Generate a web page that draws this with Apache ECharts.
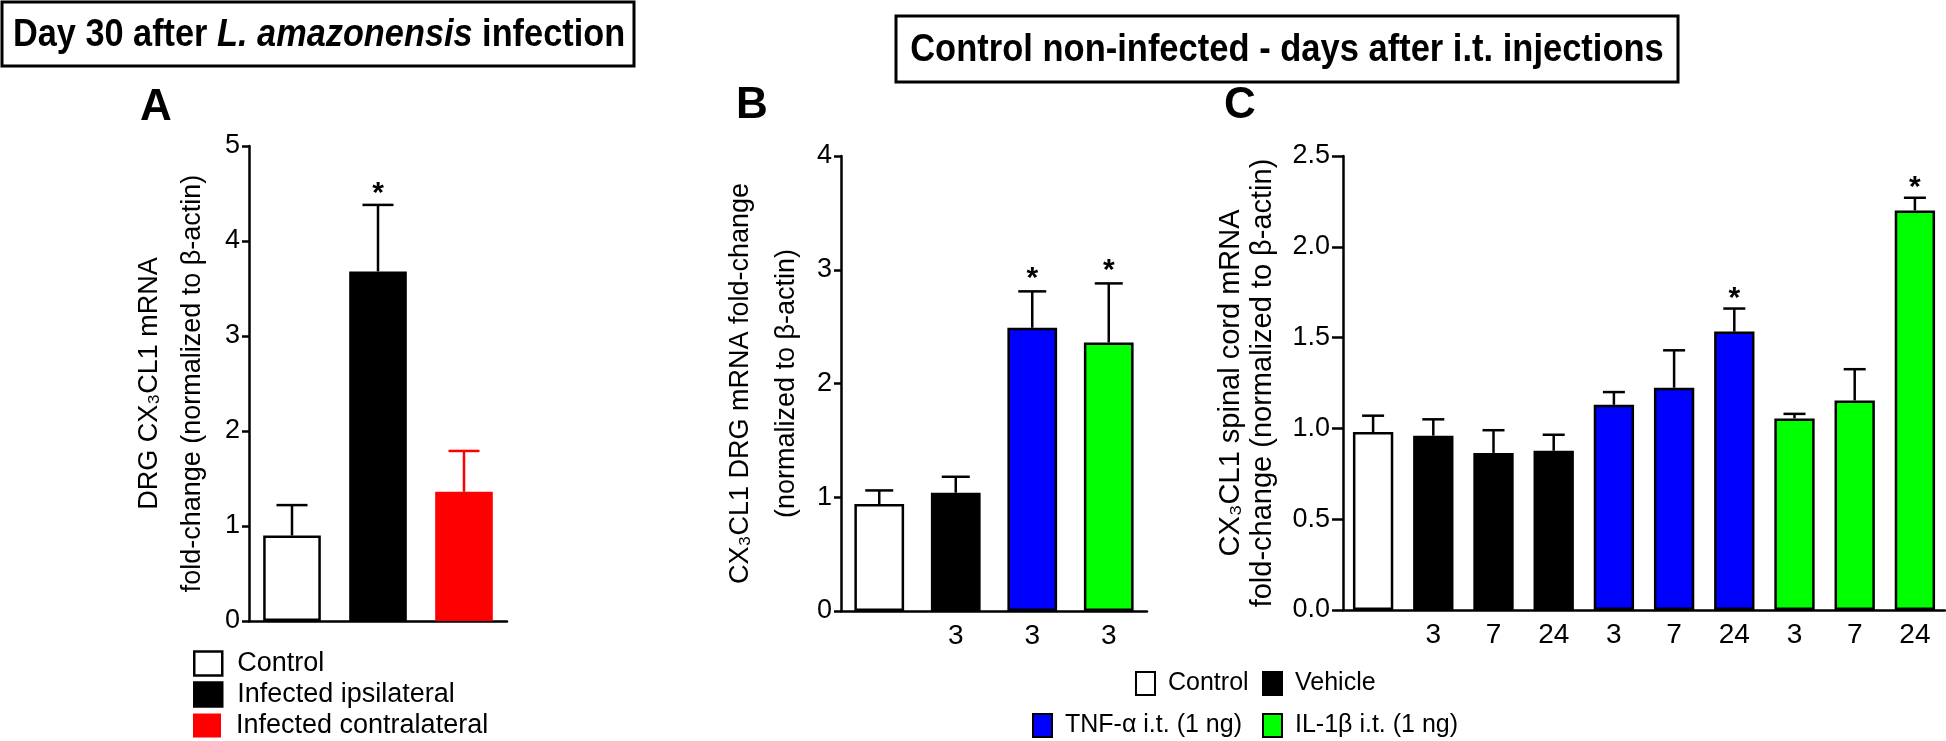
<!DOCTYPE html>
<html>
<head>
<meta charset="utf-8">
<script src="https://cdn.jsdelivr.net/npm/echarts@6/dist/echarts.min.js"></script>
<style>
html,body{margin:0;padding:0;background:#fff;}
#chart{width:1946px;height:741px;}
</style>
</head>
<body>
<div id="chart"></div>
<script>
// ---------- DATA ----------
// Panel A: Day 30 after L. amazonensis infection (DRG)
const A_CATS = ['Control', 'Infected ipsilateral', 'Infected contralateral'];
const A_MEAN = [0.90, 3.68, 1.36];
const A_SEM = [0.32, 0.70, 0.43];
const A_GROUP = [0, 1, 2];
const A_SIG = [0, 1, 0];
const A_TICKS = [0, 1, 2, 3, 4, 5];

// Panel B: DRG, days after i.t. injections
const B_LABELS = ['', '3', '3', '3'];
const B_MEAN = [0.94, 1.04, 2.49, 2.36];
const B_SEM = [0.12, 0.14, 0.32, 0.52];
const B_GROUP = [0, 1, 2, 3];
const B_SIG = [0, 0, 1, 1];
const B_TICKS = [0, 1, 2, 3, 4];

// Panel C: spinal cord, days after i.t. injections
const C_LABELS = ['', '3', '7', '24', '3', '7', '24', '3', '7', '24'];
const C_MEAN = [0.98, 0.96, 0.865, 0.877, 1.13, 1.224, 1.533, 1.055, 1.154, 2.20];
const C_SEM = [0.09, 0.09, 0.125, 0.088, 0.07, 0.206, 0.127, 0.025, 0.172, 0.07];
const C_GROUP = [0, 1, 1, 1, 2, 2, 2, 3, 3, 3];
const C_SIG = [0, 0, 0, 0, 0, 0, 1, 0, 0, 1];
const C_TICKS = [0.0, 0.5, 1.0, 1.5, 2.0, 2.5];

const A_NAMES = ['Control', 'Infected ipsilateral', 'Infected contralateral'];
const BC_NAMES = ['Control', 'Vehicle', 'TNF-\u03b1 i.t. (1 ng)', 'IL-1\u03b2 i.t. (1 ng)'];

// ---------- STYLE ----------
const FONT = "'Liberation Sans', Arial, sans-serif";
const A_FILL = ['#ffffff', '#000000', '#ff0000'];
const A_ERR = ['#000000', '#000000', '#ff0000'];
const A_BORDER = [2.5, 2.5, 0];
const BC_FILL = ['#ffffff', '#000000', '#0000ff', '#00ff00'];
const BC_ERR = ['#000000', '#000000', '#000000', '#000000'];

const chart = echarts.init(document.getElementById('chart'), null, {renderer: 'canvas'});

function barSeries(names, fills, borders, means, groups, axisIdx) {
  return names.map((nm, g) => ({
    type: 'bar',
    name: nm,
    xAxisIndex: axisIdx, yAxisIndex: axisIdx,
    barGap: '-100%',
    barCategoryGap: axisIdx === 1 ? '35%' : '33%',
    itemStyle: {color: fills[g], borderColor: '#000', borderWidth: borders ? borders[g] : 2.5},
    data: means.map((v, i) => groups[i] === g ? v : '-'),
    silent: true,
    z: 2
  }));
}

function errSeries(means, sems, groups, sigs, errColors, axisIdx, cap, starOff) {
  return {
    type: 'custom',
    xAxisIndex: axisIdx, yAxisIndex: axisIdx,
    silent: true,
    z: 3,
    data: means.map((v, i) => [i, v, v + sems[i], groups[i], sigs[i]]),
    renderItem: function (params, api) {
      const i = api.value(0), m = api.value(1), t = api.value(2);
      const g = api.value(3), s = api.value(4);
      const p0 = api.coord([i, m]);
      const p1 = api.coord([i, t]);
      const col = errColors[g];
      const children = [
        {type: 'line', shape: {x1: p0[0], y1: p0[1], x2: p1[0], y2: p1[1]}, style: {stroke: col, lineWidth: 2.5}},
        {type: 'line', shape: {x1: p1[0] - cap / 2, y1: p1[1], x2: p1[0] + cap / 2, y2: p1[1]}, style: {stroke: col, lineWidth: 2.5}}
      ];
      if (s) {
        children.push({type: 'text', x: p1[0], y: p1[1] - starOff,
          style: {text: '*', fontSize: 30, fontWeight: 'bold', fontFamily: FONT, fill: '#000', align: 'center', verticalAlign: 'middle'}});
      }
      return {type: 'group', children: children};
    }
  };
}

const axisLineStyle = {show: true, lineStyle: {color: '#000', width: 2.5}};

function yAxis(idx, max, interval, ticks, name, nameGap, fontSize, lineHeight, fmt, tickLen, margin) {
  return {
    type: 'value', gridIndex: idx, min: ticks[0], max: max, interval: interval,
    axisLine: axisLineStyle,
    axisTick: {show: true, length: tickLen, lineStyle: {color: '#000', width: 2.5}},
    splitLine: {show: false},
    axisLabel: {color: '#000', fontSize: 27, fontFamily: FONT, margin: margin, formatter: fmt},
    name: name, nameLocation: 'middle', nameRotate: 90, nameGap: nameGap,
    nameTextStyle: {color: '#000', fontSize: fontSize, fontFamily: FONT, lineHeight: lineHeight, align: 'center'}
  };
}

function xAxis(idx, labels, show) {
  return {
    type: 'category', gridIndex: idx, data: labels,
    axisLine: axisLineStyle,
    axisTick: {show: false},
    axisLabel: {show: show, color: '#000', fontSize: 28, fontFamily: FONT, margin: 11, interval: 0},
    splitLine: {show: false}
  };
}

function aLegend(g, top) {
  return {
    show: true, selectedMode: false, left: 193, top: top, icon: 'rect',
    itemWidth: 28, itemHeight: 24, padding: 0,
    textStyle: {color: '#000', fontSize: 27, fontFamily: FONT, lineHeight: 24, padding: [0, 0, 0, 10]},
    data: [{name: A_NAMES[g], itemStyle: {color: A_FILL[g], borderColor: '#000', borderWidth: A_BORDER[g]}}]
  };
}

function cLegend(g, left, top) {
  return {
    show: true, selectedMode: false, left: left, top: top, icon: 'rect',
    itemWidth: 19, itemHeight: 23, padding: 0,
    textStyle: {color: '#000', fontSize: 25, fontFamily: FONT, lineHeight: 23, padding: [0, 0, 0, 8]},
    data: [{name: BC_NAMES[g], itemStyle: {color: BC_FILL[g], borderColor: '#000', borderWidth: 2}}]
  };
}

const TITLE_STYLE = {fontSize: 39, fontWeight: 'bold', fontFamily: FONT, fill: '#000'};

const option = {
  backgroundColor: '#ffffff',
  animation: false,
  grid: [
    {left: 249, width: 258, top: 146, height: 475},
    {left: 841, width: 306, top: 156, height: 455},
    {left: 1343, width: 602, top: 156, height: 454}
  ],
  xAxis: [
    xAxis(0, A_CATS, false),
    xAxis(1, B_LABELS, true),
    xAxis(2, C_LABELS, true)
  ],
  yAxis: [
    yAxis(0, A_TICKS[A_TICKS.length - 1], 1, A_TICKS,
      'DRG CX\u2083CL1 mRNA\nfold-change (normalized to \u03b2-actin)', 35, 27, 43, null, 7, 9),
    yAxis(1, B_TICKS[B_TICKS.length - 1], 1, B_TICKS,
      'CX\u2083CL1 DRG mRNA fold-change\n(normalized to \u03b2-actin)', 31, 27, 46, null, 7, 9),
    yAxis(2, C_TICKS[C_TICKS.length - 1], 0.5, C_TICKS,
      'CX\u2083CL1 spinal cord mRNA\nfold-change (normalized to \u03b2-actin)', 64, 29, 32,
      function (v) { return v.toFixed(1); }, 11, 13)
  ],
  legend: [
    aLegend(0, 650), aLegend(1, 681), aLegend(2, 712),
    cLegend(0, 1135, 671),
    cLegend(1, 1262, 671),
    cLegend(2, 1032, 713),
    cLegend(3, 1262, 713)
  ],
  series: [].concat(
    barSeries(A_NAMES, A_FILL, A_BORDER, A_MEAN, A_GROUP, 0),
    [errSeries(A_MEAN, A_SEM, A_GROUP, A_SIG, A_ERR, 0, 31, 11)],
    barSeries(BC_NAMES, BC_FILL, null, B_MEAN, B_GROUP, 1),
    [errSeries(B_MEAN, B_SEM, B_GROUP, B_SIG, BC_ERR, 1, 28, 13)],
    barSeries(BC_NAMES, BC_FILL, null, C_MEAN, C_GROUP, 2),
    [errSeries(C_MEAN, C_SEM, C_GROUP, C_SIG, BC_ERR, 2, 22, 10)]
  ),
  graphic: [
    {type: 'rect', shape: {x: 2, y: 2, width: 632, height: 64}, style: {fill: '#fff', stroke: '#000', lineWidth: 3}, z: 10},
    {type: 'text', x: 319, y: 35, scaleX: 0.88, z: 11, style: {
      text: '{n|Day 30 after }{i|L. amazonensis}{n| infection}',
      rich: {
        n: TITLE_STYLE,
        i: Object.assign({}, TITLE_STYLE, {fontStyle: 'italic'})
      },
      align: 'center', verticalAlign: 'middle'}},
    {type: 'rect', shape: {x: 896, y: 16, width: 782, height: 66}, style: {fill: '#fff', stroke: '#000', lineWidth: 3}, z: 10},
    {type: 'text', x: 1287, y: 50, scaleX: 0.885, z: 11, style: Object.assign({
      text: 'Control non-infected - days after i.t. injections',
      align: 'center', verticalAlign: 'middle'}, TITLE_STYLE)},
    {type: 'text', x: 156, y: 108, style: {text: 'A', fontSize: 44, fontWeight: 'bold', fontFamily: FONT, fill: '#000', align: 'center', verticalAlign: 'middle'}},
    {type: 'text', x: 752, y: 106, style: {text: 'B', fontSize: 44, fontWeight: 'bold', fontFamily: FONT, fill: '#000', align: 'center', verticalAlign: 'middle'}},
    {type: 'text', x: 1240, y: 106, style: {text: 'C', fontSize: 44, fontWeight: 'bold', fontFamily: FONT, fill: '#000', align: 'center', verticalAlign: 'middle'}}
  ]
};

chart.setOption(option);
</script>
</body>
</html>
